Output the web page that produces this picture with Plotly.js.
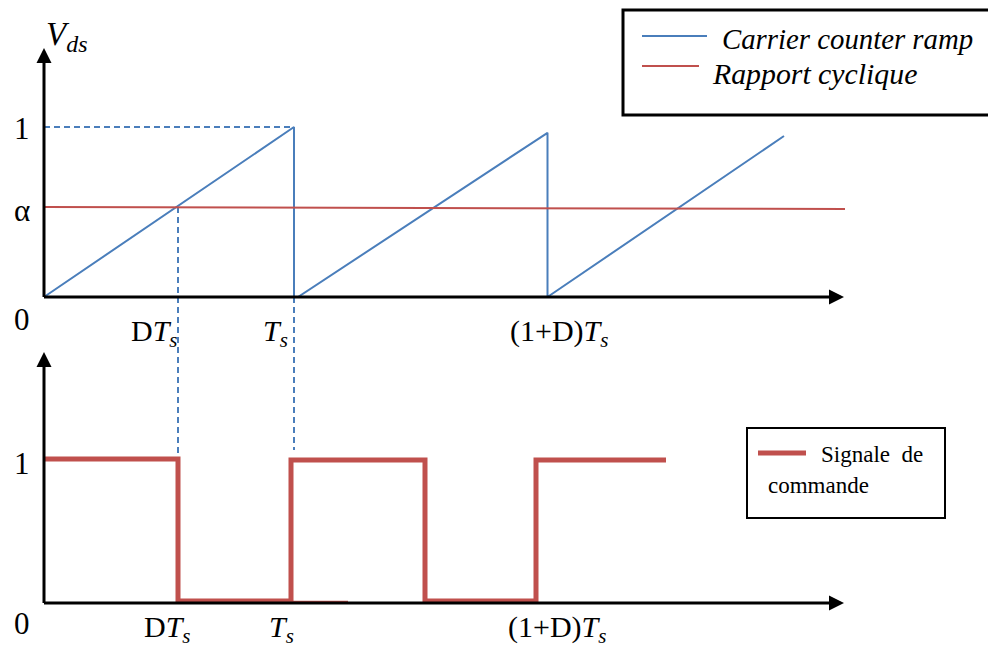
<!DOCTYPE html>
<html>
<head>
<meta charset="utf-8">
<script src="https://cdn.plot.ly/plotly-3.0.1.min.js"></script>
<style>html,body{margin:0;padding:0;background:#fff;}#chart{width:988px;height:653px;}</style>
</head>
<body>
<div id="chart"></div>
<script>
// ---- data (time in units of Ts) ----
const seriesNames = ["Carrier counter ramp", "Rapport cyclique", "Signale de commande"];
const seriesColors = ["#4a7ebb", "#c0504d", "#c0504d"];

const carrierT = [0, 1, 1, 1.016, 2.014, 2.014, 2.96];
const carrierV = [0, 1, 0, 0, 0.966, 0, 0.947];

const dutyT = [0, 3.204];
const dutyV = [0.529, 0.518];

const signalT = [0, 0.536, 0.536, 0.988, 0.988, 1.524, 1.524, 1.968, 1.968, 2.488];
const signalV = [1.007, 1.007, 0.014, 0.014, 1.0, 1.0, 0.014, 0.014, 1.0, 1.0];

const strayT = [0.976, 1.216];
const strayV = [0.008, 0.008];

// dashed guides (top-axis units)
const guideT = [0, 1, null, 0.536, 0.536, null, 1, 1];
const guideV = [1, 1, null, 0.529, -0.941, null, 0, -0.9];

// axis arrow tips
const axisTipT = 3.2;
const topAxisTipV = 1.465;
const bottomAxisTipV = 1.755;

// tick labels
const sub = "<sub><span style='font-size:21px'><i>s</i></span></sub>";
const topTickLabels = ["D<i>T</i>" + sub, "<i>T</i>" + sub, "(1+D)<i>T</i>" + sub];
const topTickPos = [0.338, 0.868, 1.856];
const bottomTickLabels = ["D<i>T</i>" + sub, "<i>T</i>" + sub, "(1+D)<i>T</i>" + sub];
const bottomTickPos = [0.39, 0.892, 1.848];

const topYLabels = ["0", "α", "1"];
const topYLabelPos = [-0.13, 0.51, 0.99];
const bottomYLabels = ["0", "1"];
const bottomYLabelPos = [-0.14, 0.975];

// ---- figure ----
const W = 988, H = 653;
const px = x => x / W;
const py = y => 1 - y / H;
const FONT = "Liberation Serif, Times New Roman, serif";

const traces = [
  {x: guideT, y: guideV, mode: "lines", line: {color: seriesColors[0], width: 2, dash: "6px,4px"}, hoverinfo: "skip", yaxis: "y"},
  {x: carrierT, y: carrierV, mode: "lines", name: seriesNames[0], line: {color: seriesColors[0], width: 2}, yaxis: "y"},
  {x: dutyT, y: dutyV, mode: "lines", name: seriesNames[1], line: {color: seriesColors[1], width: 2}, yaxis: "y"},
  {x: signalT, y: signalV, mode: "lines", name: seriesNames[2], line: {color: seriesColors[2], width: 5}, yaxis: "y2"}
];

const annotations = [];
function arrow(xT, yT, xH, yH, yref) {
  annotations.push({x: xH, y: yH, ax: xT, ay: yT, xref: "x", yref: yref, axref: "x", ayref: yref,
    showarrow: true, arrowhead: 2, arrowsize: 1, arrowwidth: 3, arrowcolor: "#000", text: "", standoff: 0, startstandoff: 0});
}
arrow(-0.006, 0, axisTipT, 0, "y");
arrow(0, -0.009, 0, topAxisTipV, "y");
arrow(-0.006, 0, axisTipT, 0, "y2");
arrow(0, -0.01, 0, bottomAxisTipV, "y2");

function label(text, x, y, yref, size, xanchor) {
  annotations.push({text: text, x: x, y: y, xref: "x", yref: yref, showarrow: false,
    xanchor: xanchor || "center", yanchor: "middle", font: {family: FONT, size: size, color: "#000"}});
}
topTickLabels.forEach((t, i) => label(t, topTickPos[i], -0.21, "y", 30, "left"));
bottomTickLabels.forEach((t, i) => label(t, bottomTickPos[i], -0.18, "y2", 30, "left"));
topYLabels.forEach((t, i) => label(t, -0.088, topYLabelPos[i], "y", 31));
bottomYLabels.forEach((t, i) => label(t, -0.088, bottomYLabelPos[i], "y2", 31));
label("<i>V</i><sub><span style='font-size:24px'><i>ds</i></span></sub>", 0.0, 1.53, "y", 33, "left");

// legends (drawn as boxes)
const shapes = [
  {type: "rect", xref: "paper", yref: "paper", x0: px(623), x1: px(992), y0: py(10), y1: py(115), line: {color: "#000", width: 3}, fillcolor: "rgba(0,0,0,0)"},
  {type: "line", xref: "paper", yref: "paper", x0: px(642), x1: px(707), y0: py(36), y1: py(36), line: {color: seriesColors[0], width: 2}},
  {type: "line", xref: "paper", yref: "paper", x0: px(642), x1: px(699), y0: py(66), y1: py(66), line: {color: seriesColors[1], width: 2}},
  {type: "rect", xref: "paper", yref: "paper", x0: px(747), x1: px(945), y0: py(428), y1: py(518), line: {color: "#000", width: 2}, fillcolor: "rgba(0,0,0,0)"},
  {type: "line", xref: "paper", yref: "paper", x0: px(758), x1: px(806), y0: py(453), y1: py(453), line: {color: seriesColors[2], width: 5}}
];
function ptext(text, x, y, size, italic) {
  annotations.push({text: italic ? "<i>" + text + "</i>" : text, x: px(x), y: py(y), xref: "paper", yref: "paper",
    showarrow: false, xanchor: "left", yanchor: "middle", font: {family: FONT, size: size, color: "#000"}});
}
ptext(seriesNames[0], 720, 39, 28.8, true);
ptext(seriesNames[1], 710, 73, 29.8, true);
const sigWords = seriesNames[2].split(" ");
ptext(sigWords[0] + "&nbsp;&nbsp;" + sigWords[1], 819, 454, 23, false);
ptext(sigWords[2], 766, 485, 23, false);

const layout = {
  width: W, height: H,
  margin: {l: 0, r: 0, t: 0, b: 0},
  paper_bgcolor: "#fff", plot_bgcolor: "#fff",
  showlegend: false,
  xaxis: {range: [-0.176, 3.776], visible: false, fixedrange: true},
  yaxis: {range: [-2.0941, 1.7471], visible: false, fixedrange: true},
  yaxis2: {range: [-0.3497, 4.2168], visible: false, overlaying: "y", fixedrange: true},
  annotations: annotations,
  shapes: shapes
};

Plotly.newPlot("chart", traces, layout, {displayModeBar: false}).then(function () {
  // stray segment drawn after the axes, as in the reference
  Plotly.addTraces("chart", {x: strayT, y: strayV, mode: "lines", line: {color: seriesColors[2], width: 2}, yaxis: "y2", hoverinfo: "skip"});
});
</script>
</body>
</html>
